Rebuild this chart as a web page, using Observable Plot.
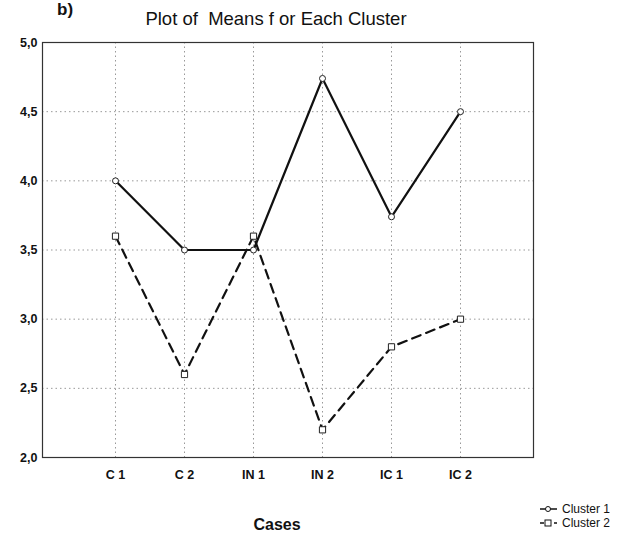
<!DOCTYPE html>
<html>
<head>
<meta charset="utf-8">
<script src="https://cdn.jsdelivr.net/npm/d3@7"></script>
<script src="https://cdn.jsdelivr.net/npm/@observablehq/plot@0.6"></script>
<style>
  html, body { margin: 0; padding: 0; background: #fff; }
  #wrap { position: relative; width: 630px; height: 536px; font-family: "Liberation Sans", Arial, sans-serif; color: #111; }
  #wrap .abs { position: absolute; white-space: nowrap; }
  #chart { position: absolute; left: 0; top: 0; }
</style>
</head>
<body>
<div id="wrap">
  <div id="chart"></div>
  <div class="abs" style="left:57px; top:0px; font-size:17px; font-weight:bold;">b)</div>
  <div class="abs" id="title" style="left:0; width:552px; text-align:center; top:8px; font-size:18.5px;">Plot of&nbsp; Means f or Each Cluster</div>
  <div class="abs" style="left:0; width:554px; text-align:center; top:516px; font-size:16px; font-weight:bold;">Cases</div>
  <div id="legend" class="abs" style="left:539px; top:502px; font-size:12px;"></div>
</div>
<script>
const categories = ["C 1", "C 2", "IN 1", "IN 2", "IC 1", "IC 2"];
const cluster1 = [4.0, 3.5, 3.5, 4.74, 3.74, 4.5];
const cluster2 = [3.6, 2.6, 3.6, 2.2, 2.8, 3.0];
const seriesNames = ["Cluster 1", "Cluster 2"];
const yTicks = [2.0, 2.5, 3.0, 3.5, 4.0, 4.5, 5.0];

const c1 = categories.map((c, i) => ({cat: c, v: cluster1[i]}));
const c2 = categories.map((c, i) => ({cat: c, v: cluster2[i]}));
const fmt = d => d.toFixed(1).replace(".", ",");

const chart = Plot.plot({
  width: 630,
  height: 536,
  marginLeft: 42,
  marginRight: 97,
  marginTop: 42,
  marginBottom: 79,
  style: {fontFamily: "Liberation Sans, Arial, sans-serif", fontSize: "12px", color: "#111", background: "#fff"},
  x: {type: "point", domain: categories, padding: 1.05, label: null},
  y: {domain: [2, 5], label: null},
  marks: [
    Plot.gridY(yTicks, {stroke: "#999", strokeOpacity: 1, strokeDasharray: "1.5,3"}),
    Plot.gridX(categories, {stroke: "#999", strokeOpacity: 1, strokeDasharray: "1.5,3"}),
    Plot.frame({stroke: "#333", strokeWidth: 1.2}),
    Plot.axisY(yTicks, {tickSize: 0, tickPadding: 5, tickFormat: fmt, fontWeight: "bold", fontSize: 12.5}),
    Plot.axisX(categories, {tickSize: 0, tickPadding: 13, fontSize: 12.5, fontWeight: "bold"}),
    Plot.line(c2, {x: "cat", y: "v", stroke: "#111", strokeWidth: 2.2, strokeDasharray: "9,6"}),
    Plot.line(c1, {x: "cat", y: "v", stroke: "#111", strokeWidth: 2.2}),
    Plot.dot(c1, {x: "cat", y: "v", r: 3, stroke: "#222", strokeWidth: 1, fill: "#fff", symbol: "circle"}),
    Plot.dot(c2, {x: "cat", y: "v", r: 3.5, stroke: "#222", strokeWidth: 1, fill: "#fff", symbol: "square"})
  ]
});
document.getElementById("chart").appendChild(chart);

// legend
const leg = document.getElementById("legend");
seriesNames.forEach((name, i) => {
  const row = document.createElement("div");
  row.style.display = "flex";
  row.style.alignItems = "center";
  row.style.height = "14px";
  row.style.lineHeight = "14px";
  const ns = "http://www.w3.org/2000/svg";
  const s = document.createElementNS(ns, "svg");
  s.setAttribute("width", "20"); s.setAttribute("height", "12");
  const ln = document.createElementNS(ns, "line");
  ln.setAttribute("x1", "1"); ln.setAttribute("x2", "18"); ln.setAttribute("y1", "6"); ln.setAttribute("y2", "6");
  ln.setAttribute("stroke", "#111"); ln.setAttribute("stroke-width", "1.5");
  if (i === 1) ln.setAttribute("stroke-dasharray", "4,3");
  s.appendChild(ln);
  let m;
  if (i === 0) {
    m = document.createElementNS(ns, "circle");
    m.setAttribute("cx", "9"); m.setAttribute("cy", "6"); m.setAttribute("r", "2.5");
  } else {
    m = document.createElementNS(ns, "rect");
    m.setAttribute("x", "6"); m.setAttribute("y", "3"); m.setAttribute("width", "6"); m.setAttribute("height", "6");
  }
  m.setAttribute("fill", "#fff"); m.setAttribute("stroke", "#111");
  s.appendChild(m);
  row.appendChild(s);
  const t = document.createElement("span");
  t.textContent = name;
  t.style.marginLeft = "3px";
  row.appendChild(t);
  leg.appendChild(row);
});
</script>
</body>
</html>
